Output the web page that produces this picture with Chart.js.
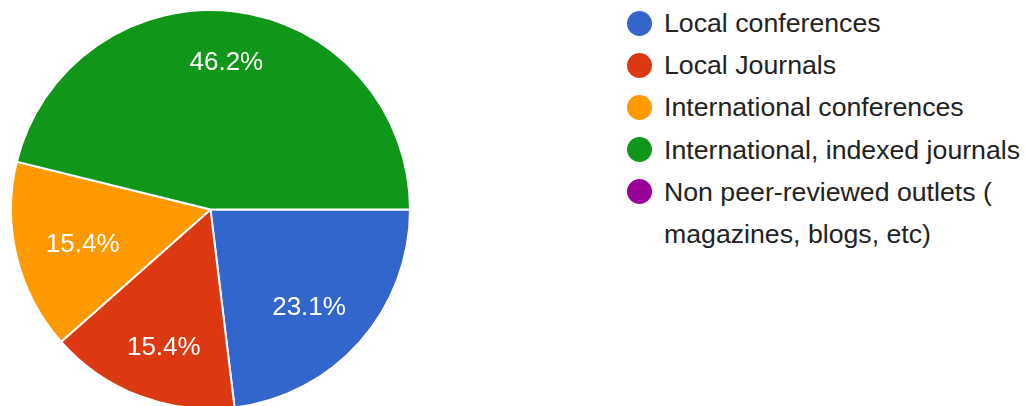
<!DOCTYPE html>
<html>
<head>
<meta charset="utf-8">
<script src="https://cdn.jsdelivr.net/npm/chart.js@4"></script>
<style>
  html, body { margin: 0; padding: 0; background: #fff; overflow: hidden; width: 1028px; height: 406px; }
  #wrap { position: absolute; left: 0; top: 0; width: 421px; height: 419px; }
  #legend { position: absolute; left: 626px; top: 2px; width: 400px; font-family: "Liberation Sans", Arial, sans-serif; font-size: 26.7px; color: #222; }
  .item { position: relative; padding-left: 38px; line-height: 42.2px; }
  .dot { position: absolute; left: 1px; top: 8.6px; width: 25px; height: 25px; border-radius: 50%; }
</style>
</head>
<body>
<div id="wrap"><canvas id="myChart"></canvas></div>
<div id="legend"></div>
<script>
const labels = ['Local conferences', 'Local Journals', 'International conferences', 'International, indexed journals', 'Non peer-reviewed outlets ( magazines, blogs, etc)']
const counts = [3, 2, 2, 6, 0]
const colors = ['#3366cc', '#dc3912', '#ff9900', '#109618', '#990099']

const total = counts.reduce((a, b) => a + b, 0)

// percent labels inside the slices
const sliceLabels = {
    id: 'sliceLabels',
    afterDatasetsDraw(chart) {
        const ctx = chart.ctx
        const meta = chart.getDatasetMeta(0)
        ctx.save()
        ctx.font = '26px "Liberation Sans", Arial, sans-serif'
        ctx.fillStyle = '#fff'
        ctx.textAlign = 'center'
        ctx.textBaseline = 'middle'
        meta.data.forEach((arc, i) => {
            if(counts[i] == 0) return
            const p = arc.getProps(['x', 'y', 'startAngle', 'endAngle', 'outerRadius'], true)
            const mid = (p.startAngle + p.endAngle) / 2
            const x = p.x + Math.cos(mid) * p.outerRadius * 0.66
            const y = p.y + Math.sin(mid) * p.outerRadius * 0.74
            ctx.fillText((counts[i] / total * 100).toFixed(1) + '%', x, y)
        })
        ctx.restore()
    }
}

const myChart = document.getElementById('myChart').getContext('2d')

const pieChart = new Chart(myChart, {
    type: 'pie',
    data: {
        labels: labels,
        datasets: [{
            data: counts,
            backgroundColor: colors,
            borderColor: '#fff',
            borderWidth: 2
        }]
    },
    options: {
        responsive: true,
        maintainAspectRatio: false,
        animation: false,
        rotation: 90,
        layout: { padding: 9 },
        plugins: {
            legend: { display: false },
            tooltip: { enabled: false }
        }
    },
    plugins: [sliceLabels]
})

// html legend so the long label can wrap
const legend = document.getElementById('legend')
labels.forEach((l, i) => {
    const item = document.createElement('div')
    item.className = 'item'
    const dot = document.createElement('span')
    dot.className = 'dot'
    dot.style.background = colors[i]
    item.appendChild(dot)
    item.appendChild(document.createTextNode(l))
    legend.appendChild(item)
})
</script>
</body>
</html>
